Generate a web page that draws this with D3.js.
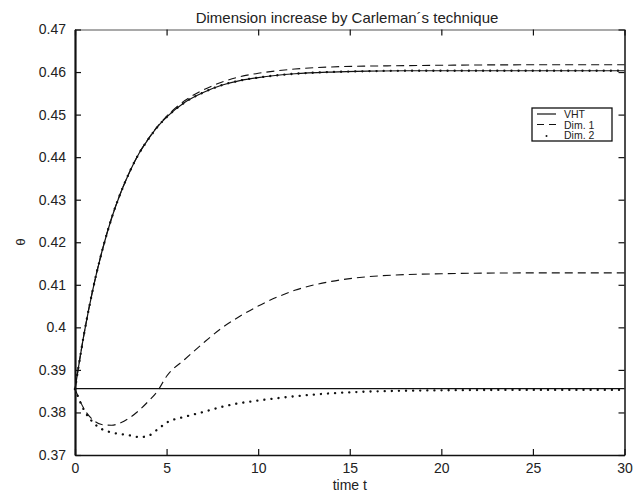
<!DOCTYPE html>
<html><head><meta charset="utf-8">
<script src="https://cdn.jsdelivr.net/npm/d3@7"></script>
<style>body{margin:0;background:#fff}svg{display:block}text{font-family:"Liberation Sans",Arial,sans-serif;fill:#222}</style>
</head><body><svg id="c" width="633" height="493"></svg>
<script>
const time = [0,0.5,1,1.5,2,2.5,3,3.5,4,4.5,5,6,7,8,9,10,12,14,16,18,20,25,30];
const vhtUpper = [0.3855,0.3986,0.4094,0.4183,0.4257,0.4317,0.4367,0.4409,0.4442,0.4471,0.4494,0.4529,0.4552,0.4569,0.4580,0.4587,0.4596,0.4600,0.4602,0.4603,0.4603,0.4603,0.4603];
const vhtLowerTime = [0,30];
const vhtLower = [0.3856,0.3856];
const dim1Upper = [0.3855,0.3986,0.4094,0.4183,0.4257,0.4317,0.4367,0.4409,0.4443,0.4472,0.4496,0.4533,0.4558,0.4576,0.4589,0.4597,0.4607,0.4612,0.4614,0.4615,0.4616,0.4617,0.4617];
const dim1Lower = [0.3855,0.3808,0.3782,0.3771,0.3770,0.3776,0.3788,0.3805,0.3826,0.3850,0.3885,0.3925,0.3963,0.3998,0.4026,0.4050,0.4087,0.4108,0.4119,0.4124,0.4126,0.4128,0.4128];
const dim2Upper = [0.3855,0.3986,0.4094,0.4183,0.4257,0.4317,0.4367,0.4409,0.4442,0.4471,0.4494,0.4529,0.4552,0.4569,0.4580,0.4587,0.4596,0.4600,0.4602,0.4603,0.4603,0.4603,0.4603];
const dim2Lower = [0.3855,0.3805,0.3776,0.3760,0.3753,0.3749,0.3746,0.3742,0.3745,0.3760,0.3776,0.3790,0.3801,0.3813,0.3822,0.3828,0.3838,0.3845,0.3849,0.3851,0.3852,0.3853,0.3853];
const xTicks = [0,5,10,15,20,25,30];
const yTicks = [0.37,0.38,0.39,0.40,0.41,0.42,0.43,0.44,0.45,0.46,0.47];
const yTickLabels = ["0.37","0.38","0.39","0.4","0.41","0.42","0.43","0.44","0.45","0.46","0.47"];
const legendNames = ["VHT","Dim. 1","Dim. 2"];
const titleText = "Dimension increase by Carleman\u00b4s technique";

const svg = d3.select("#c");
const L = 75, R = 624.5, T = 29.5, B = 455;
const x = d3.scaleLinear().domain([0,30]).range([L,R]);
const y = d3.scaleLinear().domain([0.37,0.47]).range([B,T]);

const styles = {
  solid: {dash: null, width: 1.2, cap: "butt"},
  dashed: {dash: "8,5", width: 1.1, cap: "butt"},
  dotted: {dash: "0.1,7", width: 2.3, cap: "round"}
};
function draw(ts, vs, st) {
  const line = d3.line().x(d => x(d[0])).y(d => y(d[1])).curve(d3.curveMonotoneX);
  svg.append("path").datum(ts.map((t,i)=>[t,vs[i]]))
    .attr("d", line).attr("fill","none").attr("stroke","#111")
    .attr("stroke-width", st.width).attr("stroke-dasharray", st.dash).attr("stroke-linecap", st.cap);
}
draw(vhtLowerTime, vhtLower, styles.solid);
draw(time, vhtUpper, styles.solid);
draw(time, dim1Upper, styles.dashed);
draw(time, dim1Lower, styles.dashed);
draw(time, dim2Upper, styles.dotted);
draw(time, dim2Lower, styles.dotted);

const gB = svg.append("g").attr("transform",`translate(0,${B})`)
  .call(d3.axisBottom(x).tickValues(xTicks).tickSizeInner(-6).tickSizeOuter(0).tickPadding(8));
const gT = svg.append("g").attr("transform",`translate(0,${T})`)
  .call(d3.axisTop(x).tickValues(xTicks).tickSizeInner(-6).tickSizeOuter(0).tickFormat(""));
const gL = svg.append("g").attr("transform",`translate(${L},0)`)
  .call(d3.axisLeft(y).tickValues(yTicks).tickSizeInner(-6).tickSizeOuter(0).tickPadding(9).tickFormat((d,i)=>yTickLabels[i]));
const gR = svg.append("g").attr("transform",`translate(${R},0)`)
  .call(d3.axisRight(y).tickValues(yTicks).tickSizeInner(-6).tickSizeOuter(0).tickFormat(""));
[gB,gT,gL,gR].forEach(g=>{
  g.selectAll(".domain").attr("stroke","#111");
  g.selectAll(".tick line").attr("stroke","#111").attr("stroke-width",1.2);
  g.selectAll("text").style("font-size","14px").attr("fill","#222");
});
gL.select(".domain").attr("stroke-width",2.2);
gB.select(".domain").attr("stroke-width",1.6);
gT.select(".domain").attr("stroke","#555").attr("stroke-width",1.2);
gR.select(".domain").attr("stroke-width",1.5);
gB.selectAll("text").attr("dy","0.71em");

svg.append("text").attr("x",347).attr("y",23).attr("text-anchor","middle")
  .style("font-size","15px").text(titleText);
svg.append("text").attr("x",(L+R)/2).attr("y",490).attr("text-anchor","middle")
  .style("font-size","14px").text("time t");
svg.append("text").attr("transform","translate(25,242) rotate(-90)").attr("text-anchor","middle")
  .style("font-size","13.5px").text("\u03b8");

const lg = svg.append("g");
lg.append("rect").attr("x",532).attr("y",108).attr("width",80).attr("height",33)
  .attr("fill","#fff").attr("stroke","#111").attr("stroke-width",1.3);
const legStyles = [styles.solid, styles.dashed, null];
legendNames.forEach((n,i)=>{
  const yy = 114 + i*10.5;
  if (legStyles[i]) {
    lg.append("line").attr("x1",537).attr("x2",556).attr("y1",yy).attr("y2",yy)
      .attr("stroke","#111").attr("stroke-width",legStyles[i].width)
      .attr("stroke-dasharray", i===1 ? "7,5" : null);
  } else {
    lg.append("circle").attr("cx",546.5).attr("cy",yy+1).attr("r",1).attr("fill","#111");
  }
  lg.append("text").attr("x",564).attr("y",yy+4).style("font-size","10.5px").text(n);
});
</script></body></html>
